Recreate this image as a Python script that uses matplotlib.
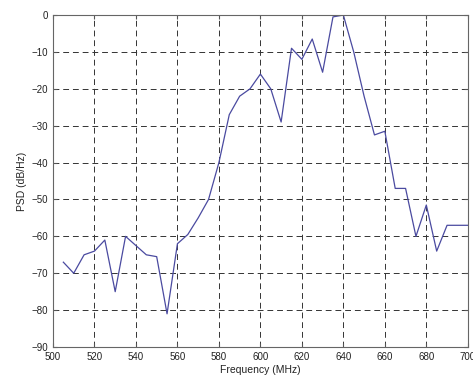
import matplotlib
matplotlib.use("Agg")
import matplotlib.pyplot as plt

freq_mhz = [505, 510, 515, 520, 525, 530, 535, 540, 545, 550,
            555, 560, 565, 570, 575, 580, 585, 590, 595, 600,
            605, 610, 615, 620, 625, 630, 635, 640, 645, 650,
            655, 660, 665, 670, 675, 680, 685, 690, 695, 700]
psd_db = [-67, -70, -65, -64, -61, -75, -60, -62.5, -65, -65.5,
          -81, -62, -59.5, -55, -50, -40, -27, -22, -20, -16,
          -20, -29, -9, -12, -6.5, -15.5, -0.5, 0, -10, -22,
          -32.5, -31.5, -47, -47, -60, -51.5, -64, -57, -57, -57]
xticks = [500, 520, 540, 560, 580, 600, 620, 640, 660, 680, 700]
yticks = [0, -10, -20, -30, -40, -50, -60, -70, -80, -90]

plt.rcParams['font.family'] = ['Liberation Sans', 'DejaVu Sans']
fig = plt.figure(figsize=(4.73, 3.86), dpi=100)
ax = fig.add_axes([0.112, 0.101, 0.877, 0.860])
ax.plot(freq_mhz, psd_db, color='#4a4aa0', linewidth=0.9)
ax.set_xlim(500, 700)
ax.set_ylim(-90, 0)
ax.set_xticks(xticks)
ax.set_yticks(yticks)
ax.grid(True, color='#333333', linestyle=(0, (6, 4)), linewidth=0.7)
ax.tick_params(direction='in', labelsize=7, length=3, color='#555555', top=True, right=True, labelcolor='#222222')
for s in ax.spines.values():
    s.set_color('#666666')
    s.set_linewidth(0.8)
ax.set_xlabel('Frequency (MHz)', fontsize=7.5, labelpad=2, color='#222222')
ax.set_ylabel('PSD (dB/Hz)', fontsize=7.5, labelpad=3, color='#222222')
fig.savefig('out.png', dpi=100)
